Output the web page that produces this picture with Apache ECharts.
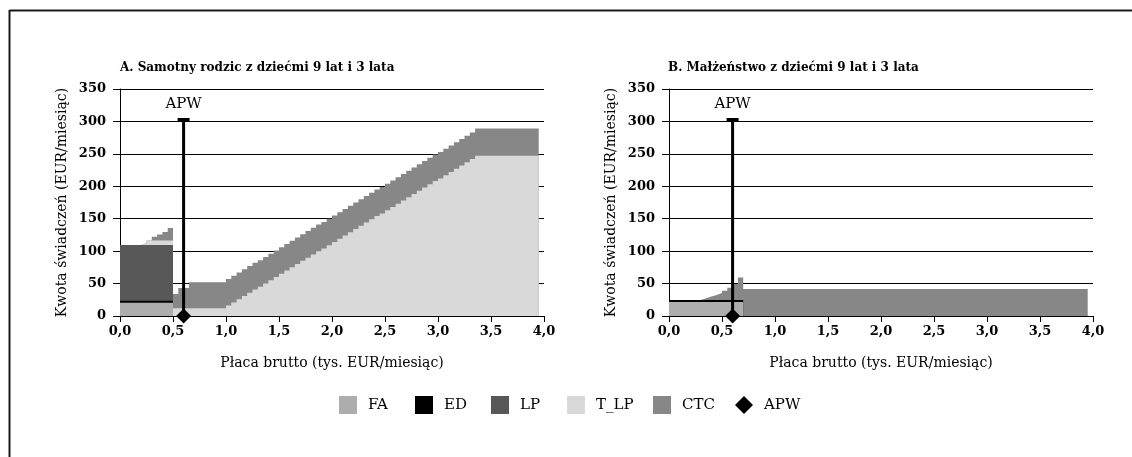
<!DOCTYPE html>
<html>
<head>
<meta charset="utf-8">
<script src="https://cdn.jsdelivr.net/npm/echarts@6/dist/echarts.min.js"></script>
<style>
html,body{margin:0;padding:0;background:#fff;}
#chart{width:1132px;height:457px;}
</style>
</head>
<body>
<div id="chart"></div>
<script>
// x positions (gross wage, thousand EUR / month)
const wage = [
  0.00,0.05,0.10,0.15,0.20,0.25,0.30,0.35,0.40,0.45,
  0.50,0.55,0.60,0.65,0.70,0.75,0.80,0.85,0.90,0.95,
  1.00,1.05,1.10,1.15,1.20,1.25,1.30,1.35,1.40,1.45,
  1.50,1.55,1.60,1.65,1.70,1.75,1.80,1.85,1.90,1.95,
  2.00,2.05,2.10,2.15,2.20,2.25,2.30,2.35,2.40,2.45,
  2.50,2.55,2.60,2.65,2.70,2.75,2.80,2.85,2.90,2.95,
  3.00,3.05,3.10,3.15,3.20,3.25,3.30,3.35,3.40,3.45,
  3.50,3.55,3.60,3.65,3.70,3.75,3.80,3.85,3.90,3.95
];
const xTickLabels = ['0,0','0,5','1,0','1,5','2,0','2,5','3,0','3,5','4,0'];

// Panel A: single parent (benefit components, EUR/month)
const faA = [
  20.5,20.5,20.5,20.5,20.5,20.5,20.5,20.5,20.5,20.5,
  0,0,0,0,0,0,0,0,0,0,
  0,0,0,0,0,0,0,0,0,0,
  0,0,0,0,0,0,0,0,0,0,
  0,0,0,0,0,0,0,0,0,0,
  0,0,0,0,0,0,0,0,0,0,
  0,0,0,0,0,0,0,0,0,0,
  0,0,0,0,0,0,0,0,0,0
];
const edA = [
  3,3,3,3,3,3,3,3,3,3,
  0,0,0,0,0,0,0,0,0,0,
  0,0,0,0,0,0,0,0,0,0,
  0,0,0,0,0,0,0,0,0,0,
  0,0,0,0,0,0,0,0,0,0,
  0,0,0,0,0,0,0,0,0,0,
  0,0,0,0,0,0,0,0,0,0,
  0,0,0,0,0,0,0,0,0,0
];
const lpA = [
  86,86,86,86,86,86,86,86,86,86,
  0,0,0,0,0,0,0,0,0,0,
  0,0,0,0,0,0,0,0,0,0,
  0,0,0,0,0,0,0,0,0,0,
  0,0,0,0,0,0,0,0,0,0,
  0,0,0,0,0,0,0,0,0,0,
  0,0,0,0,0,0,0,0,0,0,
  0,0,0,0,0,0,0,0,0,0
];
const tlpA = [
  0,0,0,0,3,7,7,7,7,7,
  12,12,12,12,12,12,12,12,12,12,
  16,21,26,31,36,41,45,50,55,60,
  65,70,75,80,85,90,95,100,104,109,
  114,119,124,129,134,139,144,149,154,158,
  163,168,173,178,183,188,193,198,203,208,
  212,217,222,227,232,237,242,247,247,247,
  247,247,247,247,247,247,247,247,247,247
];
const ctcA = [
  0,0,0,0,0,0,5.5,9,13,19,
  22,31,31,40,40,40,40,40,40,40,
  41,41,41,41,41,41,41,41,41,41,
  41,41,41,41,41,41,41,41,41,41,
  41,41,41,41,41,41,41,41,41,41,
  41,41,41,41,41,41,41,41,41,41,
  41,41,41,41,41,41,41,42,42,42,
  42,42,42,42,42,42,42,42,42,42
];

// Panel B: married couple
const faB = [
  21.5,21.5,21.5,21.5,21.5,21.5,21.5,21.5,21.5,21.5,
  21.5,21.5,21.5,21.5,0,0,0,0,0,0,
  0,0,0,0,0,0,0,0,0,0,
  0,0,0,0,0,0,0,0,0,0,
  0,0,0,0,0,0,0,0,0,0,
  0,0,0,0,0,0,0,0,0,0,
  0,0,0,0,0,0,0,0,0,0,
  0,0,0,0,0,0,0,0,0,0
];
const edB = [
  3,3,3,3,3,3,3,3,3,3,
  3,3,3,3,0,0,0,0,0,0,
  0,0,0,0,0,0,0,0,0,0,
  0,0,0,0,0,0,0,0,0,0,
  0,0,0,0,0,0,0,0,0,0,
  0,0,0,0,0,0,0,0,0,0,
  0,0,0,0,0,0,0,0,0,0,
  0,0,0,0,0,0,0,0,0,0
];
const ctcB = [
  0,0,0,0,0,0,3,5.5,8,11,
  14.5,19,25,35,41.5,41.5,41.5,41.5,41.5,41.5,
  41.5,41.5,41.5,41.5,41.5,41.5,41.5,41.5,41.5,41.5,
  41.5,41.5,41.5,41.5,41.5,41.5,41.5,41.5,41.5,41.5,
  41.5,41.5,41.5,41.5,41.5,41.5,41.5,41.5,41.5,41.5,
  41.5,41.5,41.5,41.5,41.5,41.5,41.5,41.5,41.5,41.5,
  41.5,41.5,41.5,41.5,41.5,41.5,41.5,41.5,41.5,41.5,
  41.5,41.5,41.5,41.5,41.5,41.5,41.5,41.5,41.5,41.5
];

// APW marker (average production wage): [wage, top of line]
const apwA = [0.6, 303];
const apwB = [0.6, 303];

const titles = ['A. Samotny rodzic z dziećmi 9 lat i 3 lata', 'B. Małżeństwo z dziećmi 9 lat i 3 lata'];
const legendNames = ['FA', 'ED', 'LP', 'T_LP', 'CTC', 'APW'];

const FONT = 'DejaVu Serif';
const colors = {FA:'#adadad', ED:'#000000', LP:'#585858', T_LP:'#d9d9d9', CTC:'#878787', APW:'#000000'};

// stacked layers: build cumulative tops, draw from the top layer downward
function layers(list, gi) {
  const tops = [];
  let run = wage.map(() => 0);
  list.forEach(([name, arr]) => {
    run = run.map((v, i) => v + arr[i]);
    tops.push([name, run.slice()]);
  });
  return tops.reverse().map(([name, top]) => ({
    name: name, type: 'line', step: 'end',
    xAxisIndex: gi, yAxisIndex: gi,
    data: wage.map((x, i) => [x, top[i]]),
    showSymbol: false, symbol: 'none',
    color: colors[name],
    itemStyle: {color: colors[name]},
    lineStyle: {width: 0, color: colors[name]},
    areaStyle: {color: colors[name], opacity: 1},
    silent: true, z: 2
  }));
}
function apwSeries(apw, gi) {
  return {
    name: 'APW', type: 'line', xAxisIndex: gi, yAxisIndex: gi,
    color: '#000', itemStyle: {color: '#000'},
    lineStyle: {width: 3, color: '#000'},
    data: [
      {value: [apw[0], 0], symbol: 'diamond', symbolSize: 15},
      {value: [apw[0], apw[1]], symbol: 'rect', symbolSize: [12, 3],
       label: {show: true, formatter: 'APW', position: 'top', distance: 6,
               fontFamily: FONT, fontSize: 15, color: '#000'}}
    ],
    z: 5, silent: true
  };
}
function xAxis(gi) {
  return {
    type: 'value', gridIndex: gi, min: 0, max: 4, interval: 0.5,
    axisLine: {show: true, lineStyle: {color: '#000', width: 1}},
    axisTick: {show: true, length: 6, lineStyle: {color: '#000'}},
    axisLabel: {formatter: v => xTickLabels[Math.round(v / 0.5)], fontFamily: FONT, fontSize: 13,
                fontWeight: 'bold', color: '#000', margin: 9},
    splitLine: {show: false},
    name: 'Płaca brutto (tys. EUR/miesiąc)', nameLocation: 'middle', nameGap: 40,
    nameTextStyle: {fontFamily: FONT, fontSize: 14, color: '#000'}
  };
}
function yAxis(gi) {
  return {
    type: 'value', gridIndex: gi, min: 0, max: 350, interval: 50,
    axisLine: {show: true, lineStyle: {color: '#000', width: 1}},
    axisTick: {show: true, length: 7, lineStyle: {color: '#000'}},
    axisLabel: {fontFamily: FONT, fontSize: 13, fontWeight: 'bold', color: '#000', margin: 14},
    splitLine: {show: true, lineStyle: {color: '#000', width: 1}},
    name: 'Kwota świadczeń (EUR/miesiąc)', nameLocation: 'middle', nameGap: 51,
    nameTextStyle: {fontFamily: FONT, fontSize: 14, color: '#000'}
  };
}

const legendLeft = [339, 415, 491, 567, 653, 735];
const legends = legendNames.map((n, i) => ({
  left: legendLeft[i], top: 396, itemWidth: 18, itemHeight: 18, itemGap: 0, padding: 0,
  selectedMode: false,
  data: [{name: n, icon: n === 'APW' ? 'diamond' : 'rect'}],
  textStyle: {fontFamily: FONT, fontSize: 15, color: '#000', padding: [0, 0, 0, 6]}
}));

const option = {
  animation: false,
  backgroundColor: '#fff',
  title: [
    {text: titles[0], left: 120, top: 62, padding: 0, textStyle: {fontFamily: FONT, fontSize: 12, fontWeight: 'bold', color: '#000'}},
    {text: titles[1], left: 668, top: 62, padding: 0, textStyle: {fontFamily: FONT, fontSize: 12, fontWeight: 'bold', color: '#000'}}
  ],
  legend: legends,
  grid: [
    {left: 120, top: 89, width: 424, height: 227},
    {left: 669, top: 89, width: 424, height: 227}
  ],
  xAxis: [xAxis(0), xAxis(1)],
  yAxis: [yAxis(0), yAxis(1)],
  series: [].concat(
    layers([['FA', faA], ['ED', edA], ['LP', lpA], ['T_LP', tlpA], ['CTC', ctcA]], 0),
    layers([['FA', faB], ['ED', edB], ['CTC', ctcB]], 1),
    [apwSeries(apwA, 0), apwSeries(apwB, 1)]
  ),
  graphic: [
    {type: 'line', shape: {x1: 9.5, y1: 10.5, x2: 1132, y2: 10.5}, style: {stroke: '#1a1a1a', lineWidth: 2}},
    {type: 'line', shape: {x1: 9.5, y1: 10, x2: 9.5, y2: 457}, style: {stroke: '#1a1a1a', lineWidth: 2}}
  ]
};

const chart = echarts.init(document.getElementById('chart'), null, {renderer: 'canvas'});
chart.setOption(option);
</script>
</body>
</html>
